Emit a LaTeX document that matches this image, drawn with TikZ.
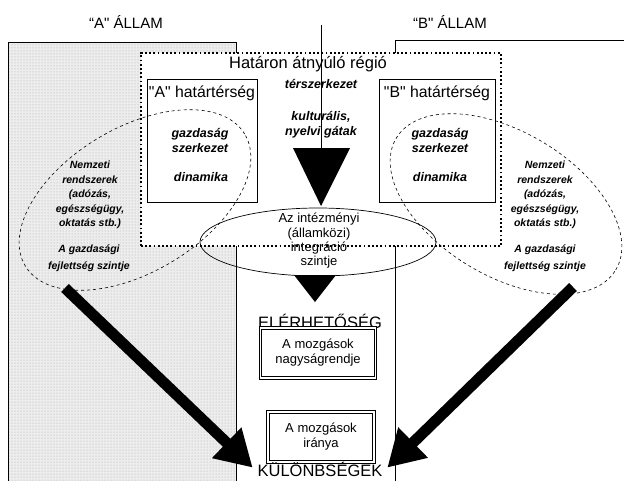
\documentclass[tikz,border=0pt]{standalone}
\usepackage{fontspec}
\setmainfont{Liberation Sans}[Ligatures=TeXOff]
\usetikzlibrary{shapes.geometric,arrows.meta,patterns}
\begin{document}
\begin{tikzpicture}[x=1pt,y=-1pt,
  lbl/.style={font=\fontsize{15}{17}\selectfont},
  big/.style={font=\fontsize{16.5}{18}\selectfont},
  hdr/.style={font=\fontsize{15.8}{18}\selectfont},
  bi/.style={font=\fontsize{12.5}{15}\selectfont\bfseries\itshape, align=center},
  nat/.style={font=\fontsize{10.5}{14.5}\selectfont\bfseries\itshape, align=center},
  plain/.style={font=\fontsize{13}{14.3}\selectfont, align=center},
  hbox/.style={draw, line width=0.7pt, inner sep=0, anchor=north west},
  dbox/.style={draw, line width=0.8pt, double, double distance=1.6pt, inner sep=0, font=\fontsize{13}{15}\selectfont, align=center},
  dashell/.style={draw, dashed, line width=0.6pt, ellipse, inner sep=0, minimum width=256, minimum height=144},
  bigarrow/.style={line width=11pt, -{Triangle[length=36pt,width=40pt]}, shorten >=2pt}]
\useasboundingbox (0,0) rectangle (624,480);
% states
\fill[gray!14] (8,42) rectangle (236,482);
\fill[pattern=dots, pattern color=gray!70] (8,42) rectangle (236,482);
\draw[line width=0.7pt] (8,482) -- (8,42) -- (236,42) -- (236,482);
\draw[line width=0.7pt] (395,482) -- (395,40) -- (626,40);
\node[lbl] (stA) at (126,22) {“A" ÁLLAM};
\node[lbl] (stB) at (450,22) {“B" ÁLLAM};
% region box
\node[draw, fill=white, line width=1.8pt, dash pattern=on 1.8pt off 2.4pt, inner sep=0,
      minimum width=360, minimum height=193, anchor=north west] (region) at (140,52) {};
\draw[line width=0.7pt] (321,25) -- (321,205);
\node[big] (regt) at (308,64) {Határon átnyúló régió};
% border areas
\node[hbox, minimum width=110, minimum height=123] (boxA) at (147,79) {};
\node[hbox, minimum width=116, minimum height=123] (boxB) at (379,79) {};
\node[hdr] (tA) at (202,93) {"A" határtérség};
\node[hdr] (tB) at (437,93) {"B" határtérség};
\node[bi] (gA) at (200,140) {gazdaság\\szerkezet};
\node[bi] (dA) at (201,177) {dinamika};
\node[bi] (gB) at (440,140) {gazdaság\\szerkezet};
\node[bi] (dB) at (440,177) {dinamika};
\node[bi] (ter) at (321,84) {térszerkezet};
\node[bi] (kult) at (321,125) {kulturális,\\nyelvi gátak};
% triangle 1
\coordinate (t1a) at (293,148);
\coordinate (t1b) at (350,148);
\coordinate (t1c) at (321,206);
\fill (t1a) -- (t1b) -- (t1c) -- cycle;
% institutional ellipse
\node[draw, line width=0.7pt, ellipse, inner sep=0, minimum width=236, minimum height=68] (inst) at (318,242) {};
\node[plain] (instt) at (319,241) {Az intézményi\\(államközi)\\integráció\\szintje};
% dashed ellipses
\node[dashell, rotate=31] (natL) at (135,200) {};
\node[dashell, rotate=-31] (natR) at (506,204) {};
\node[nat] (nL1) at (90,195) {Nemzeti\\rendszerek\\(adózás,\\egészségügy,\\oktatás stb.)};
\node[nat, font=\fontsize{10.5}{17}\selectfont\bfseries\itshape] (nL2) at (89,258) {A gazdasági\\fejlettség szintje};
\node[nat] (nR1) at (545,195) {Nemzeti\\rendszerek\\(adózás,\\egészségügy,\\oktatás stb.)};
\node[nat, font=\fontsize{10.5}{17}\selectfont\bfseries\itshape] (nR2) at (545,258) {A gazdasági\\fejlettség szintje};
% triangle 2
\coordinate (t2a) at (294,275);
\coordinate (t2b) at (336,275);
\coordinate (t2c) at (315,302);
\fill (t2a) -- (t2b) -- (t2c) -- cycle;
% lower column
\node[big] (ele) at (320,321) {ELÉRHETŐSÉG};
\node[dbox, minimum width=115, minimum height=50] (nagy) at (318,353) {A mozgások\\nagyságrendje};
\node[dbox, minimum width=106, minimum height=50] (irany) at (321,437) {A mozgások\\iránya};
\node[big, inner ysep=1pt] (kul) at (320,469) {KÜLÖNBSÉGEK};
% big arrows
\coordinate (aL) at (65,288);
\coordinate (aR) at (573,287);
\draw[bigarrow] (aL) -- (kul.west);
\draw[bigarrow] (aR) -- (kul.east);
\end{tikzpicture}
\end{document}
